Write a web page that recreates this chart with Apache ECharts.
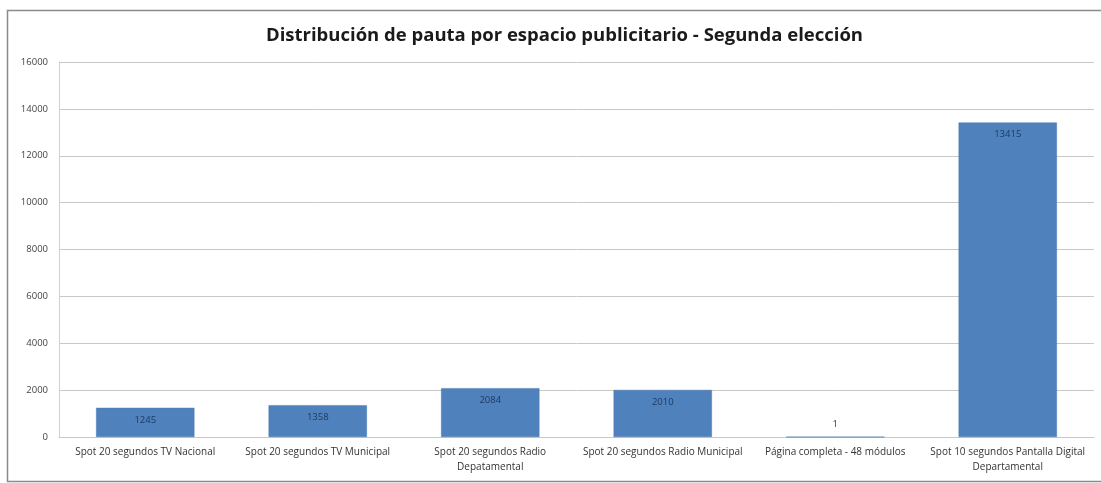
<!DOCTYPE html>
<html>
<head>
<meta charset="utf-8">
<script src="https://cdn.jsdelivr.net/npm/echarts@6/dist/echarts.min.js"></script>
<style>
html,body{margin:0;padding:0;background:#fff;}
#chart{width:1101px;height:483px;}
</style>
</head>
<body>
<div id="chart"></div>
<script>
const titleText = 'Distribución de pauta por espacio publicitario - Segunda elección';
const categories = [
  'Spot 20 segundos TV Nacional',
  'Spot 20 segundos TV Municipal',
  'Spot 20 segundos Radio\nDepatamental',
  'Spot 20 segundos Radio Municipal',
  'Página completa - 48 módulos',
  'Spot 10 segundos Pantalla Digital\nDepartamental'
];
const values = [1245, 1358, 2084, 2010, 1, 13415];
const yTicks = [0, 2000, 4000, 6000, 8000, 10000, 12000, 14000, 16000];

const chart = echarts.init(document.getElementById('chart'));
chart.setOption({
  backgroundColor: '#ffffff',
  animation: false,
  title: {
    text: titleText,
    left: 261,
    top: 21,
    textStyle: {fontFamily: 'Open Sans', fontWeight: 'bold', fontSize: 18.5, color: '#1a1a1a'}
  },
  graphic: [{
    type: 'rect',
    shape: {x: 7.5, y: 10.5, width: 1110, height: 471},
    style: {fill: 'none', stroke: '#8a8a8a', lineWidth: 1.5},
    silent: true
  }],
  grid: {left: 59, right: 7, top: 62, bottom: 46},
  xAxis: {
    type: 'category',
    data: categories,
    axisLine: {show: true, lineStyle: {color: '#c8c8c8'}},
    axisTick: {show: false},
    axisLabel: {
      interval: 0,
      fontFamily: 'Open Sans',
      fontSize: 10,
      color: '#333',
      margin: 8,
      lineHeight: 15
    }
  },
  yAxis: {
    type: 'value',
    min: yTicks[0],
    max: yTicks[yTicks.length - 1],
    interval: 2000,
    axisLine: {show: true, lineStyle: {color: '#d0d0d0'}},
    axisTick: {show: false},
    splitLine: {lineStyle: {color: '#c8c8c8', width: 1}},
    axisLabel: {fontFamily: 'Open Sans', fontSize: 9.5, color: '#444', margin: 11, formatter: v => String(v)}
  },
  series: [{
    type: 'bar',
    data: values.map(v => ({
      value: v,
      label: v < 100 ? {position: 'top', distance: 7} : {}
    })),
    barWidth: '57%',
    itemStyle: {color: '#4f81bd', borderColor: '#4a7ab3', borderWidth: 0.5},
    label: {
      show: true,
      position: 'insideTop',
      distance: 7,
      fontFamily: 'Open Sans',
      fontSize: 9.5,
      color: '#1f3a60'
    }
  }]
});
</script>
</body>
</html>
